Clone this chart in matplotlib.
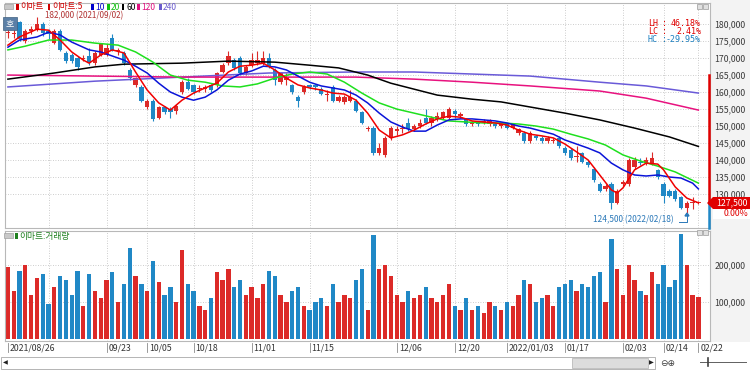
import numpy as np
import matplotlib
matplotlib.use("Agg")
import matplotlib.pyplot as plt
import matplotlib.transforms as mtrans
from matplotlib.patches import Rectangle, Polygon
from matplotlib.lines import Line2D
from matplotlib.ticker import FuncFormatter

plt.rcParams['font.family'] = ['Noto Sans CJK KR', 'DejaVu Sans']

# daily candles, thousand won (2021/08/26 .. 2022/02/22)
opens = [177.5, 177, 180.5, 175, 178, 178.5, 180, 178, 174.5, 178,
         171.5, 171, 170, 170, 170.5, 168.5, 171, 171, 176, 172,
         171.5, 166.5, 162, 161.5, 155.5, 157.5, 152.5, 155.5, 155, 154.5,
         160, 163, 162, 161, 161, 162, 162, 166, 168.5, 169.5,
         170, 165.5, 168, 168.5, 168.5, 170, 166.5, 163, 163.5, 162,
         158.5, 160, 162, 162, 161, 159, 161.5, 157.5, 157, 157.5,
         157.5, 154, 149, 149.5, 142, 141.5, 146.5, 148.5, 149, 151,
         149, 150, 152.5, 151, 152, 152.5, 152.5, 154.5, 153, 152,
         150.5, 151, 151, 150.5, 150.5, 150, 150.5, 149.5, 148, 148,
         145.5, 147, 146.5, 145.5, 145.5, 146.5, 143.5, 143, 141, 142,
         139.5, 137.5, 133, 131.5, 133, 127.5, 133, 133, 138, 139.5,
         139, 139, 137, 133, 131, 131, 129, 126, 127.5, 127.5]
highs = [179, 178.5, 181, 178.5, 179.5, 182, 180.5, 178.5, 178.5, 178.5,
         172, 171.5, 170.5, 171, 173, 172, 174.5, 174, 177, 173,
         172, 167, 164.5, 162, 158, 158, 156, 156, 155.5, 156.5,
         163.5, 164, 162.5, 162, 162, 162.5, 166, 168.5, 172, 170,
         170.5, 168, 171.5, 172, 172, 171.5, 167, 166, 165.5, 162.5,
         159, 162, 162.5, 162.5, 161.5, 160.5, 162, 159, 159, 160.5,
         158, 154.5, 150, 150, 145, 147, 150, 150, 150.5, 152.5,
         150.5, 152, 155, 153, 154, 154.5, 155.5, 155, 154, 152.5,
         151.5, 151.5, 152, 152, 151, 151, 151, 151, 149.5, 148.5,
         148.5, 147.5, 147, 147, 146.5, 147, 144, 143.5, 144, 142.5,
         140, 138, 133.5, 133, 133.5, 131.5, 134, 140.5, 141, 140.5,
         141, 142.5, 137.5, 133.5, 131.5, 131.5, 129.5, 128, 129, 128]
lows = [176, 176, 175, 174.5, 177, 178, 176.5, 175.5, 174, 172,
        168.5, 168.5, 166.5, 169, 168, 168, 170.5, 170.5, 172, 171,
        168, 163.5, 161.5, 157, 155, 151.5, 152, 153.5, 152.5, 153.5,
        159.5, 160.5, 159.5, 160, 160, 160, 161.5, 165.5, 168, 166.5,
        165, 165, 167.5, 168, 168, 167, 162, 162.5, 162, 159.5,
        155.5, 159.5, 161, 160.5, 159, 157.5, 157, 157, 156.5, 157,
        154, 150.5, 148.5, 141.5, 141.5, 141, 146, 147.5, 148, 148.5,
        148.5, 149.5, 150.5, 150, 151.5, 152, 152, 152.5, 152.5, 150,
        150, 150, 150.5, 150, 149.5, 149.5, 149, 149, 147.5, 145,
        145, 146, 145, 145, 145, 143.5, 141.5, 140, 139.5, 139,
        138, 133.5, 130.5, 131, 125.5, 127, 132.5, 132.5, 137.5, 138.5,
        138.5, 138.5, 134.5, 127.5, 129, 128, 125.5, 124.5, 125.5, 127]
closes = [177.5, 177.5, 175.5, 178, 178.5, 180, 177.5, 177, 178, 172.5,
          169, 169, 167.5, 170, 168.5, 171.5, 174, 173, 172.5, 172.5,
          168.5, 164, 164, 157.5, 157.5, 152, 155.5, 154, 154, 156,
          163, 161, 160, 161, 161.5, 160.5, 165.5, 168, 170.5, 167,
          165.5, 167.5, 169.5, 169.5, 170, 167.5, 163.5, 165.5, 164.5, 160,
          157.5, 161.5, 161.5, 161.5, 159.5, 159.5, 157.5, 158.5, 158.5, 158.5,
          154.5, 151, 149.5, 142, 143.5, 146.5, 149.5, 149, 149.5, 149,
          150, 151, 151, 152.5, 153, 154, 155, 153.5, 153.5, 150.5,
          151, 150.5, 151.5, 151.5, 150, 150.5, 149.5, 150.5, 149, 145.5,
          148, 146.5, 145.5, 146.5, 146, 144, 142, 140.5, 141, 139.5,
          138.5, 134, 131, 132.5, 127.5, 131, 133.5, 140, 140, 139,
          140, 140.5, 135, 129.5, 129.5, 128.5, 126, 127.5, 127.5, 127.5]
# volume, thousand shares
volumes = [195, 130, 185, 200, 120, 165, 175, 95, 140, 170,
           160, 120, 185, 90, 175, 130, 110, 160, 180, 100,
           150, 245, 170, 150, 130, 210, 155, 120, 140, 100,
           240, 150, 130, 90, 80, 110, 180, 160, 190, 140,
           160, 120, 140, 110, 150, 185, 170, 120, 100, 130,
           140, 90, 80, 100, 110, 90, 150, 100, 120, 110,
           160, 190, 80, 280, 190, 200, 170, 120, 100, 130,
           110, 120, 140, 110, 100, 120, 150, 90, 80, 110,
           80, 90, 70, 100, 90, 80, 100, 90, 120, 160,
           150, 100, 110, 120, 90, 140, 150, 160, 130, 150,
           140, 170, 180, 100, 270, 190, 120, 200, 160, 130,
           120, 180, 150, 200, 140, 160, 285, 200, 120, 115]

# moving averages (candle index, thousand won)
ma5_i = [0, 2, 5, 7, 9, 11, 13, 14, 16, 18, 20, 22, 24, 26, 28, 30, 32, 34, 36, 38,
         40, 42, 44, 46, 48, 50, 52, 54, 56, 58, 60, 62, 64, 66, 68, 70, 72, 74, 76, 78,
         80, 82, 84, 86, 88, 90, 92, 94, 96, 98, 100, 102, 104, 105, 106, 108, 110, 112, 113, 115,
         117, 119]
ma5_v = [173.8, 176.2, 178.5, 178.2, 175.3, 171.8, 169.4, 168.5, 170.9, 172.4,
         171.5, 165.9, 160.6, 156.8, 154.7, 157.6, 159.7, 161.2, 162.6, 165.9,
         167.6, 167.9, 168.5, 166.5, 164.1, 162.1, 161.2, 160.6, 159.7, 159.4,
         157.6, 153.8, 148.8, 146.5, 147.4, 148.8, 150.6, 152.1, 152.9, 152.6,
         151.5, 151.2, 150.9, 150.3, 148.8, 147.6, 147.1, 146.5, 144.7, 142.4,
         140.0, 135.6, 131.2, 130.3, 131.8, 137.1, 139.1, 138.8, 137.1, 132.1,
         128.8, 127.4]
ma10_i = [0, 2, 5, 7, 9, 11, 14, 16, 18, 20, 22, 24, 26, 28, 30, 32, 34, 36, 38, 40,
          42, 44, 46, 48, 50, 52, 54, 56, 58, 60, 62, 64, 66, 68, 70, 72, 74, 76, 78, 80,
          82, 84, 86, 88, 90, 92, 94, 96, 98, 100, 102, 104, 106, 108, 110, 112, 114, 116, 118, 119]
ma10_v = [173.2, 175.3, 176.2, 177.6, 176.8, 174.7, 172.4, 171.8, 170.6, 169.4,
          167.6, 165.6, 162.6, 160.0, 158.5, 157.6, 158.5, 160.6, 163.5, 165.3,
          166.2, 167.6, 167.4, 166.5, 164.7, 162.9, 161.8, 161.2, 160.6, 159.1,
          156.8, 153.8, 151.2, 149.7, 148.5, 148.5, 150.3, 151.8, 152.1, 152.1,
          151.8, 151.5, 150.9, 150.0, 149.4, 148.5, 147.6, 145.9, 144.7, 143.5,
          142.1, 139.1, 137.1, 135.6, 135.3, 135.6, 135.0, 134.7, 133.2, 131.5]
ma20_i = [0, 3, 7, 11, 15, 19, 22, 25, 28, 31, 34, 37, 40, 43, 46, 49, 52, 55, 58, 61,
          64, 67, 70, 73, 76, 79, 82, 85, 88, 91, 94, 97, 100, 103, 106, 109, 112, 115, 119]
ma20_v = [172.4, 173.5, 175.3, 175.3, 174.4, 173.8, 171.8, 168.8, 165.0, 163.5,
          162.9, 161.8, 161.5, 162.4, 164.1, 165.3, 165.9, 165.3, 162.9, 159.7,
          156.8, 155.0, 153.8, 152.6, 151.5, 151.2, 150.9, 150.9, 150.6, 150.0,
          149.1, 147.6, 146.2, 144.4, 141.5, 139.7, 138.2, 136.5, 133.2]
ma60_i = [0, 8, 15, 20, 30, 38, 46, 52, 57, 62, 66, 74, 80, 85, 90, 96, 102, 108, 114, 119]
ma60_v = [163.8, 165.6, 167.4, 168.2, 168.5, 169.1, 168.8, 167.9, 167.1, 165.0,
          162.6, 159.1, 157.9, 157.1, 155.6, 153.8, 151.8, 149.4, 146.8, 144.0]
ma120_i = [0, 15, 30, 45, 60, 70, 80, 90, 102, 110, 119]
ma120_v = [165.0, 164.7, 164.4, 164.4, 164.4, 163.8, 162.9, 161.8, 160.3, 158.2, 154.7]
ma240_i = [0, 15, 30, 45, 60, 70, 80, 90, 102, 110, 119]
ma240_v = [161.5, 163.2, 164.4, 165.6, 165.9, 165.9, 165.3, 164.7, 162.9, 161.8, 159.7]

date_idx = [0, 17, 24, 32, 42, 52, 67, 77, 86, 96, 106, 113, 119]
date_lbl = ['2021/08/26', '09/23', '10/05', '10/18', '11/01', '11/15', '12/06',
            '12/20', '2022/01/03', '01/17', '02/03', '02/14', '02/22']
grid_idx = [7] + date_idx[1:]

UP = '#dc2a28'
DN = '#2088c6'
W, H = 750, 370


def box(x0, y0, x1, y1):
    # pixel box, origin top-left -> figure rect
    return [x0 / W, 1 - y1 / H, (x1 - x0) / W, (y1 - y0) / H]


def fx(x):
    return x / W


def fy(y):
    return 1 - y / H


fig = plt.figure(figsize=(7.5, 3.7), dpi=100)
fig.patches.append(Rectangle((fx(710), fy(342)), 40 / W, 342 / H, transform=fig.transFigure,
                             facecolor='#f3f3f3', edgecolor='none', zorder=-5))

ax = fig.add_axes(box(5, 3, 710, 228))
axv = fig.add_axes(box(5, 231, 710, 341), sharex=ax)

o = np.array(opens) * 1000
h = np.array(highs) * 1000
l = np.array(lows) * 1000
c = np.array(closes) * 1000
v = np.array(volumes) * 1000
x = np.arange(len(c))
cols = np.where(c >= o, UP, DN)

# candles
ax.vlines(x, l, h, colors=cols, lw=0.8, zorder=3)
body = np.abs(c - o)
hgt = np.maximum(body, 300)
bot = np.where(body > 0, np.minimum(o, c), o - 150)
ax.bar(x, hgt, bottom=bot, width=0.74, color=cols, lw=0, zorder=4)

# moving averages
for idx, vals, col in [(ma240_i, ma240_v, '#6a5ad8'), (ma120_i, ma120_v, '#e8127f'),
                       (ma60_i, ma60_v, '#000000'), (ma20_i, ma20_v, '#1ee01e'),
                       (ma10_i, ma10_v, '#0a14d8'), (ma5_i, ma5_v, '#f00000')]:
    ax.plot(idx, np.array(vals) * 1000, color=col, lw=1.1, zorder=5)

# price range marker at right edge
ax.plot([120.75, 120.75], [165000, 127500], color='#e00000', lw=1.8, clip_on=False, zorder=6)
ax.plot([120.75, 120.75], [127500, 120000], color=DN, lw=1.8, clip_on=False, zorder=6)

fmt = FuncFormatter(lambda val, pos: f'{val:,.0f}')
ax.set_xlim(-0.5, 121)
ax.set_ylim(120000, 186200)
ax.yaxis.tick_right()
ax.set_yticks(range(130000, 180001, 5000))
ax.yaxis.set_major_formatter(fmt)
ax.set_xticks(grid_idx)
ax.tick_params(axis='x', length=0, labelbottom=False)
ax.tick_params(axis='y', length=0, pad=3, labelsize=6.3, labelcolor='#3a3a3a')
ax.grid(True, ls=(0, (1, 2)), color='#bdbdbd', lw=0.6)
ax.set_axisbelow(True)

# volume
axv.bar(x, v, width=0.74, color=cols, lw=0)
axv.set_ylim(-5000, 292000)
axv.yaxis.tick_right()
axv.set_yticks([100000, 200000])
axv.yaxis.set_major_formatter(fmt)
axv.tick_params(axis='x', length=0, labelbottom=False)
axv.tick_params(axis='y', length=0, pad=3, labelsize=6.3, labelcolor='#3a3a3a')
axv.grid(True, ls=(0, (1, 2)), color='#bdbdbd', lw=0.6)
axv.set_axisbelow(True)

for a in (ax, axv):
    for s in a.spines.values():
        s.set_color('#b8b8b8')
        s.set_linewidth(0.8)

# date axis
blend = mtrans.blended_transform_factory(axv.transData, axv.transAxes)
for i, lab in zip(date_idx, date_lbl):
    axv.add_line(Line2D([i, i], [-0.015, -0.1], transform=blend, color='#8a8a8a', lw=0.6, clip_on=False))
    axv.text(i + 0.35, -0.02, lab, transform=blend, ha='left', va='top', fontsize=6.3, color='#333333')

# legend line at top (high marker label sits just under it)
fig.text(fx(45), fy(16), '182,000 (2021/09/02)', fontsize=5.8, color='#b03030', va='center')
leg = [(16, '이마트', '#d00000'), (48, '이마트:5', '#d00000'), (91, '10', '#0000cc'),
       (107, '20', '#10c010'), (122, '60', '#000000'), (137, '120', '#e0107f'), (159, '240', '#6a5acd')]
for px, txt, col in leg:
    fig.patches.append(Rectangle((fx(px), fy(10)), 2.5 / W, 6 / H, transform=fig.transFigure,
                                 facecolor=col, edgecolor='none'))
    fig.text(fx(px + 4), fy(7), txt, fontsize=6.1, color=col, va='center')
fig.patches.append(Rectangle((fx(4), fy(9)), 9 / W, 5 / H, transform=fig.transFigure,
                             facecolor='#c8c8c8', edgecolor='#a0a0a0', lw=0.5))
fig.patches.append(Rectangle((fx(3), fy(30)), 14 / W, 13 / H, transform=fig.transFigure,
                             facecolor='#5b7fa6', edgecolor='#40607f', lw=0.5))
fig.text(fx(10), fy(23.5), '호', fontsize=6.5, color='white', ha='center', va='center')

# volume legend
fig.patches.append(Rectangle((fx(4), fy(238)), 9 / W, 5 / H, transform=fig.transFigure,
                             facecolor='#c8c8c8', edgecolor='#a0a0a0', lw=0.5))
fig.patches.append(Rectangle((fx(15), fy(239)), 2.5 / W, 6 / H, transform=fig.transFigure,
                             facecolor='#208020', edgecolor='none'))
fig.text(fx(19), fy(236), '이마트:거래량', fontsize=6.3, color='#208020', va='center')

# LH / LC / HC
for y, key, val, col in [(24, 'LH', '46.18%', '#e00000'), (32, 'LC', '2.41%', '#e00000'),
                         (40, 'HC', '-29.95%', '#1a7fc0')]:
    fig.text(fx(648), fy(y), key, fontsize=6, color=col, va='center', family='DejaVu Sans Mono')
    fig.text(fx(662), fy(y), ':', fontsize=6, color=col, va='center', family='DejaVu Sans Mono')
    fig.text(fx(701), fy(y), val, fontsize=6, color=col, va='center', ha='right', family='DejaVu Sans Mono')

# low label
fig.text(fx(593), fy(220), '124,500 (2022/02/18)', fontsize=6, color='#2a78b8', va='center')
fig.add_artist(Line2D([fx(679), fx(687), fx(687)], [fy(222), fy(222), fy(215)], color='#2a78b8', lw=0.7))
fig.add_artist(Polygon([[fx(685), fy(216)], [fx(689), fy(216)], [fx(687), fy(213)]],
                       closed=True, transform=fig.transFigure, color='#2a78b8'))

# current price tag
fig.patches.append(Polygon([[fx(707), fy(203)], [fx(713), fy(197)], [fx(750), fy(197)],
                            [fx(750), fy(209)], [fx(713), fy(209)]], closed=True,
                           transform=fig.transFigure, facecolor='#e00000', edgecolor='none'))
fig.text(fx(748), fy(203), '127,500', fontsize=6.3, color='white', ha='right', va='center')
fig.patches.append(Rectangle((fx(713), fy(219)), 37 / W, 10 / H, transform=fig.transFigure,
                             facecolor='white', edgecolor='none'))
fig.text(fx(748), fy(214), '0.00%', fontsize=6.3, color='#e00000', ha='right', va='center')

# small window icons
for yy in (3, 229):
    for xx in (697, 703):
        fig.patches.append(Rectangle((fx(xx), fy(yy + 6)), 5 / W, 5 / H, transform=fig.transFigure,
                                     facecolor='#e0e0e0', edgecolor='#9a9a9a', lw=0.5))

# scroll bar
fig.patches.append(Rectangle((fx(1), fy(369)), 654 / W, 12 / H, transform=fig.transFigure,
                             facecolor='white', edgecolor='#a8a8a8', lw=0.6))
fig.patches.append(Rectangle((fx(572), fy(368)), 76 / W, 10 / H, transform=fig.transFigure,
                             facecolor='#dcdcdc', edgecolor='#b0b0b0', lw=0.5))
fig.text(fx(3), fy(363), '◀', fontsize=4.5, color='#202020', va='center', family='DejaVu Sans')
fig.text(fx(649), fy(363), '▶', fontsize=4.5, color='#202020', va='center', family='DejaVu Sans')
fig.text(fx(660), fy(363), '⊖⊕', fontsize=6.5, color='#404040', va='center', family='DejaVu Sans')
fig.add_artist(Line2D([fx(700), fx(746)], [fy(362), fy(362)], color='#606060', lw=0.7))
fig.add_artist(Line2D([fx(708), fx(708)], [fy(358), fy(366)], color='#404040', lw=1.2))

fig.savefig('out.png', dpi=100, facecolor='white')
